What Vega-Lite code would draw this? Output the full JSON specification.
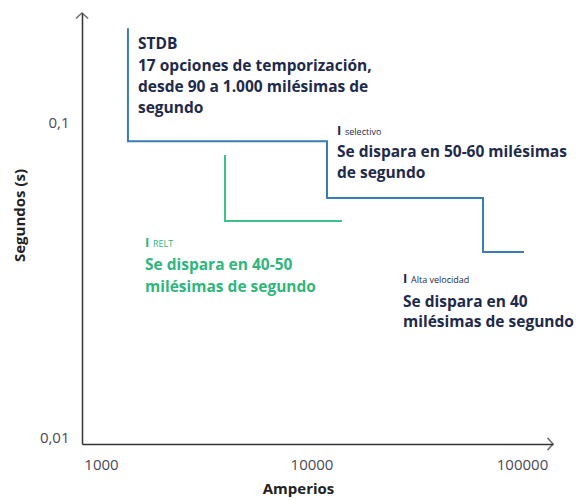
{
  "$schema": "https://vega.github.io/schema/vega-lite/v6.json",
  "width": 471,
  "height": 431,
  "autosize": "none",
  "padding": {"left": 82, "top": 13, "right": 34, "bottom": 56},
  "background": "white",
  "config": {
    "view": {"stroke": null},
    "axis": {"grid": false, "ticks": false, "domainColor": "#333333", "domainWidth": 1.5, "labelFont": "Open Sans", "labelFontSize": 15, "labelColor": "#4a4a55", "titleFont": "Open Sans", "titleFontSize": 15, "titleFontWeight": "bold", "titleColor": "#222222"}
  },
  "datasets": {
    "curves": [
      {"series": "STDB", "order": 1, "amps": 1343, "sec": 0.1986},
      {"series": "STDB", "order": 2, "amps": 1343, "sec": 0.087},
      {"series": "STDB", "order": 3, "amps": 11850, "sec": 0.087},
      {"series": "STDB", "order": 4, "amps": 11850, "sec": 0.0574},
      {"series": "STDB", "order": 5, "amps": 65300, "sec": 0.0574},
      {"series": "STDB", "order": 6, "amps": 65300, "sec": 0.0387},
      {"series": "STDB", "order": 7, "amps": 102200, "sec": 0.0387},
      {"series": "RELT", "order": 1, "amps": 3882, "sec": 0.0786},
      {"series": "RELT", "order": 2, "amps": 3882, "sec": 0.0485},
      {"series": "RELT", "order": 3, "amps": 13960, "sec": 0.0485}
    ],
    "notes": [
      {"series": "STDB", "kind": "body", "amps": 1499, "sec": 0.1705, "label": "STDB"},
      {"series": "STDB", "kind": "body", "amps": 1499, "sec": 0.1451, "label": "17 opciones de temporización,"},
      {"series": "STDB", "kind": "body", "amps": 1499, "sec": 0.1245, "label": "desde 90 a 1.000 milésimas de"},
      {"series": "STDB", "kind": "body", "amps": 1499, "sec": 0.1068, "label": "segundo"},
      {"series": "selectivo", "kind": "head", "amps": 13215, "sec": 0.0909, "label": "selectivo"},
      {"series": "selectivo", "kind": "body", "amps": 13215, "sec": 0.0774, "label": "Se dispara en 50-60 milésimas"},
      {"series": "selectivo", "kind": "body", "amps": 13215, "sec": 0.0664, "label": "de segundo"},
      {"series": "RELT", "kind": "head", "amps": 1618, "sec": 0.0401, "label": "RELT"},
      {"series": "RELT", "kind": "body", "amps": 1618, "sec": 0.0339, "label": "Se dispara en 40-50"},
      {"series": "RELT", "kind": "body", "amps": 1618, "sec": 0.0289, "label": "milésimas de segundo"},
      {"series": "Alta", "kind": "head", "amps": 27200, "sec": 0.0308, "label": "Alta velocidad"},
      {"series": "Alta", "kind": "body", "amps": 27200, "sec": 0.0259, "label": "Se dispara en 40"},
      {"series": "Alta", "kind": "body", "amps": 27200, "sec": 0.0223, "label": "milésimas de segundo"}
    ],
    "arrows": [
      {"dir": "up", "amps": 812.4, "sec": 0.222},
      {"dir": "right", "amps": 140400, "sec": 0.00951}
    ]
  },
  "encoding": {
    "x": {"field": "amps", "type": "quantitative", "scale": {"type": "log", "domain": [812.4, 140400], "nice": false}, "axis": {"values": [1000, 10000, 100000], "format": "d", "labelPadding": 13, "title": "Amperios", "titlePadding": 9, "titleX": 216}},
    "y": {"field": "sec", "type": "quantitative", "scale": {"type": "log", "domain": [0.00951, 0.222], "nice": false}, "axis": {"values": [0.01, 0.1], "labelExpr": "datum.value < 0.05 ? '0,01' : '0,1'", "labelPadding": 13, "title": "Segundos (s)", "titlePadding": 12, "titleY": 202}}
  },
  "layer": [
    {
      "data": {"name": "curves"},
      "mark": {"type": "line", "strokeWidth": 2, "interpolate": "linear"},
      "encoding": {
        "detail": {"field": "series"},
        "order": {"field": "order", "type": "quantitative"},
        "color": {"field": "series", "type": "nominal", "scale": {"domain": ["STDB", "RELT"], "range": ["#3a7db3", "#3cc18a"]}, "legend": null}
      }
    },
    {
      "data": {"name": "notes"},
      "transform": [{"filter": "datum.kind === 'body'"}],
      "mark": {"type": "text", "align": "left", "baseline": "alphabetic", "font": "Open Sans", "fontSize": 15.5, "fontWeight": "bold"},
      "encoding": {
        "text": {"field": "label"},
        "color": {"condition": {"test": "datum.series === 'RELT'", "value": "#2fb67c"}, "value": "#1e2a4a"}
      }
    },
    {
      "data": {"name": "notes"},
      "transform": [{"filter": "datum.kind === 'head'"}],
      "mark": {"type": "text", "align": "left", "baseline": "alphabetic", "font": "Open Sans", "fontSize": 13, "fontWeight": "bold", "text": "I"},
      "encoding": {
        "color": {"condition": {"test": "datum.series === 'RELT'", "value": "#2fb67c"}, "value": "#1e2a4a"}
      }
    },
    {
      "data": {"name": "notes"},
      "transform": [{"filter": "datum.kind === 'head'"}],
      "mark": {"type": "text", "align": "left", "baseline": "alphabetic", "font": "Open Sans", "fontSize": 9, "dx": 8},
      "encoding": {
        "text": {"field": "label"},
        "color": {"condition": {"test": "datum.series === 'RELT'", "value": "#2fb67c"}, "value": "#1e2a4a"}
      }
    },
    {
      "data": {"name": "arrows"},
      "transform": [{"filter": "datum.dir === 'up'"}],
      "mark": {"type": "point", "shape": "M-1,0.9L0,0L1,0.9", "size": 150, "filled": false, "stroke": "#333333", "strokeWidth": 1.5, "clip": false}
    },
    {
      "data": {"name": "arrows"},
      "transform": [{"filter": "datum.dir === 'right'"}],
      "mark": {"type": "point", "shape": "M-0.9,-1L0,0L-0.9,1", "size": 150, "filled": false, "stroke": "#333333", "strokeWidth": 1.5, "clip": false}
    }
  ]
}
